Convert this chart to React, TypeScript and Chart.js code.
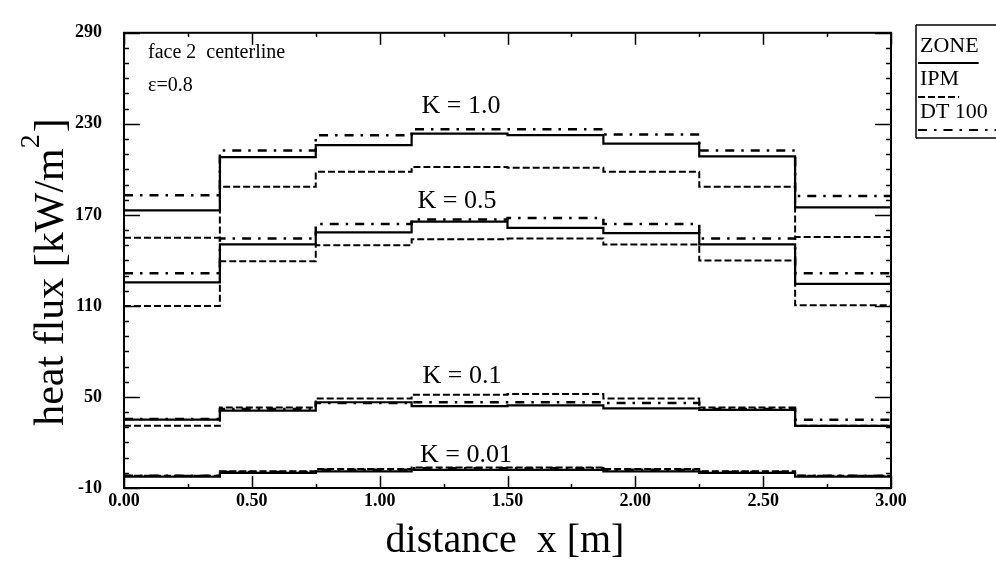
import React, { useEffect, useRef } from 'react';
import { Chart, registerables } from 'chart.js';

Chart.register(...registerables);

// zone boundaries along the centerline [m]
const zoneEdges = [0, 0.375, 0.75, 1.125, 1.5, 1.875, 2.25, 2.625, 3.0];

// K = 1.0
const zoneK100 = [173, 208, 216, 223.5, 222.5, 217, 208.5, 175];
const ipmK100 = [155, 188.5, 198.5, 201.5, 201, 198.5, 188.5, 155.5];
const dtK100 = [183, 212.5, 222.5, 226.5, 226.5, 223, 212.5, 182.5];
// K = 0.5
const zoneK050 = [125.5, 150.5, 158.5, 165.5, 161.5, 158, 150.5, 124.5];
const ipmK050 = [110, 139.5, 150, 154, 154.5, 150.5, 140, 110.5];
const dtK050 = [131.5, 154.5, 164, 167, 168, 164, 154.5, 131.5];
// K = 0.1
const zoneK010 = [35, 41, 46.5, 44, 44.5, 42.5, 41.5, 31];
const ipmK010 = [31, 43, 49, 51.5, 52, 49, 43, 31];
const dtK010 = [35.5, 42, 46, 46.5, 46.5, 46, 42, 35];
// K = 0.01
const zoneK001 = [-2.5, 0, 1, 2, 2, 1, 0, -2.5];
const ipmK001 = [-2, 1, 2.5, 3.5, 3.5, 2.5, 1, -2];
const dtK001 = [-2, 0.5, 2, 3, 3, 2, 0.5, -2];

const yTickValues = [-10, 50, 110, 170, 230, 290];
const xTickValues = [0, 0.5, 1.0, 1.5, 2.0, 2.5, 3.0];
const xMinorStep = 0.25;
const yMinorStep = 10;

const kLabels = ['K = 1.0', 'K = 0.5', 'K = 0.1', 'K = 0.01'];
const legendNames = ['ZONE', 'IPM', 'DT 100'];

const SERIF = "'Liberation Serif', 'Times New Roman', serif";

const DASH_ZONE: number[] = [];
const DASH_IPM = [7, 3];
const DASH_DT = [9, 7, 2.5, 7];

// value of zone i holds from edge i to edge i+1
function stepData(vals: number[]) {
  return zoneEdges.map((x, i) => ({ x, y: vals[Math.max(0, i - 1)] }));
}

function makeSet(label: string, vals: number[], dash: number[], width: number) {
  return {
    label,
    data: stepData(vals),
    borderColor: '#000',
    backgroundColor: '#000',
    borderWidth: width,
    borderDash: dash,
    borderCapStyle: 'butt' as const,
    stepped: 'after' as const,
    pointRadius: 0,
    fill: false,
  };
}

const decorPlugin = {
  id: 'decor',
  afterDraw(chart: any) {
    const { ctx, chartArea: a, scales } = chart;
    const x = scales.x;
    const y = scales.y;
    ctx.save();
    ctx.strokeStyle = '#000';
    ctx.fillStyle = '#000';

    const seg = (x1: number, y1: number, x2: number, y2: number) => {
      ctx.beginPath();
      ctx.moveTo(x1, y1);
      ctx.lineTo(x2, y2);
      ctx.stroke();
    };

    // inward ticks
    ctx.lineWidth = 1.5;
    ctx.setLineDash([]);
    for (let v = yTickValues[0]; v <= yTickValues[yTickValues.length - 1] + 1e-6; v += yMinorStep) {
      const py = Math.round(y.getPixelForValue(v)) + 0.5;
      const major = yTickValues.some((t) => Math.abs(t - v) < 1e-6);
      const len = major ? 16 : 5;
      seg(a.left, py, a.left + len, py);
      seg(a.right, py, a.right - len, py);
    }
    for (let v = xTickValues[0]; v <= xTickValues[xTickValues.length - 1] + 1e-6; v += xMinorStep) {
      const px = Math.round(x.getPixelForValue(v)) + 0.5;
      const major = xTickValues.some((t) => Math.abs(t - v) < 1e-6);
      const len = major ? 12 : 4;
      seg(px, a.bottom, px, a.bottom - len);
      seg(px, a.top, px, a.top + len);
    }

    // frame
    ctx.lineWidth = 2;
    ctx.strokeRect(a.left, a.top, a.right - a.left, a.bottom - a.top);

    // annotations
    ctx.textAlign = 'left';
    ctx.textBaseline = 'alphabetic';
    ctx.font = `20px ${SERIF}`;
    ctx.fillText('face 2  centerline', 148, 58);
    ctx.fillText('\u03B5=0.8', 148, 91);

    ctx.font = `26px ${SERIF}`;
    ctx.textAlign = 'center';
    const kPos = [
      [461, 113],
      [457, 208],
      [462, 383],
      [466, 462],
    ];
    kLabels.forEach((t, i) => ctx.fillText(t, kPos[i][0], kPos[i][1]));

    // x title
    ctx.font = `40px ${SERIF}`;
    ctx.fillText('distance  x [m]', 505, 552);

    // y title with raised 2
    ctx.save();
    ctx.translate(63, 272);
    ctx.rotate(-Math.PI / 2);
    ctx.textAlign = 'left';
    const main = 'heat flux [kW/m';
    ctx.font = `42px ${SERIF}`;
    const w1 = ctx.measureText(main).width;
    const w3 = ctx.measureText(']').width;
    ctx.font = `28px ${SERIF}`;
    const w2 = ctx.measureText('2').width;
    const total = w1 + w2 + w3 + 2;
    let cx = -total / 2;
    ctx.font = `42px ${SERIF}`;
    ctx.fillText(main, cx, 0);
    cx += w1;
    ctx.font = `28px ${SERIF}`;
    ctx.fillText('2', cx, -24);
    cx += w2 + 2;
    ctx.font = `42px ${SERIF}`;
    ctx.fillText(']', cx, 0);
    ctx.restore();

    // legend box
    const lx = 916;
    ctx.lineWidth = 1.5;
    ctx.setLineDash([]);
    seg(lx, 25, 996, 25);
    seg(lx, 25, lx, 138);
    seg(lx, 138, 996, 138);
    ctx.font = `22px ${SERIF}`;
    ctx.textAlign = 'left';
    const lBase = [52, 85, 118];
    const lLine = [63, 97, 130];
    const lDash = [DASH_ZONE, DASH_IPM, DASH_DT];
    legendNames.forEach((n, i) => {
      ctx.fillText(n, lx + 4, lBase[i]);
      const tw = ctx.measureText(n).width;
      ctx.lineWidth = 2;
      ctx.setLineDash(lDash[i]);
      seg(lx + 2, lLine[i], i === 2 ? 996 : lx + 4 + tw, lLine[i]);
    });
    ctx.restore();
  },
};

export default function App() {
  const ref = useRef<HTMLCanvasElement | null>(null);

  useEffect(() => {
    document.body.style.margin = '0';
    const canvas = ref.current;
    if (!canvas) return;
    const chart = new Chart(canvas, {
      type: 'line',
      data: {
        datasets: [
          makeSet('ZONE K=1.0', zoneK100, DASH_ZONE, 2.2),
          makeSet('IPM K=1.0', ipmK100, DASH_IPM, 2),
          makeSet('DT100 K=1.0', dtK100, DASH_DT, 2.5),
          makeSet('ZONE K=0.5', zoneK050, DASH_ZONE, 2.2),
          makeSet('IPM K=0.5', ipmK050, DASH_IPM, 2),
          makeSet('DT100 K=0.5', dtK050, DASH_DT, 2.5),
          makeSet('ZONE K=0.1', zoneK010, DASH_ZONE, 2.2),
          makeSet('IPM K=0.1', ipmK010, DASH_IPM, 2),
          makeSet('DT100 K=0.1', dtK010, DASH_DT, 2.5),
          makeSet('ZONE K=0.01', zoneK001, DASH_ZONE, 2.2),
          makeSet('IPM K=0.01', ipmK001, DASH_IPM, 2),
          makeSet('DT100 K=0.01', dtK001, DASH_DT, 2.5),
        ],
      },
      options: {
        responsive: false,
        animation: false,
        layout: { padding: { left: 0, right: 105, top: 22, bottom: 0 } },
        plugins: {
          legend: { display: false },
          tooltip: { enabled: false },
          title: { display: false },
        },
        scales: {
          x: {
            type: 'linear',
            min: 0,
            max: 3,
            afterFit: (s: any) => {
              s.height = 76;
            },
            afterBuildTicks: (s: any) => {
              s.ticks = xTickValues.map((v) => ({ value: v }));
            },
            grid: { display: false, drawTicks: false },
            border: { display: false },
            ticks: {
              padding: 3,
              color: '#000',
              font: { family: SERIF, size: 18, weight: 'bold' },
              maxRotation: 0,
              callback: (v: any) => Number(v).toFixed(2),
            },
          },
          y: {
            type: 'linear',
            min: -10,
            max: 290,
            afterFit: (s: any) => {
              s.width = 124;
            },
            afterBuildTicks: (s: any) => {
              s.ticks = yTickValues.map((v) => ({ value: v }));
            },
            grid: { display: false, drawTicks: false },
            border: { display: false },
            ticks: {
              padding: 22,
              color: '#000',
              font: { family: SERIF, size: 18, weight: 'bold' },
              callback: (v: any) => String(v),
            },
          },
        },
      },
      plugins: [decorPlugin],
    } as any);
    return () => chart.destroy();
  }, []);

  return (
    <div style={{ position: 'absolute', left: 0, top: 0, width: 996, height: 564, background: '#fff' }}>
      <canvas ref={ref} width={996} height={564} style={{ display: 'block' }} />
    </div>
  );
}
